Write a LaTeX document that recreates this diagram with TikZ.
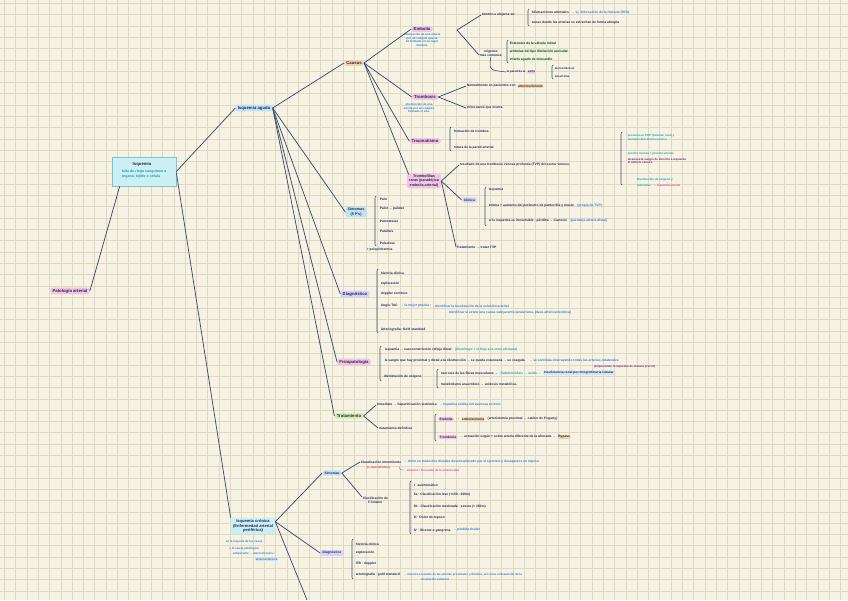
\documentclass[tikz,border=0pt]{standalone}
\usepackage{fontspec}
\setmainfont{Liberation Sans}[UprightFont=* Bold]
\newfontfamily\dejavu{DejaVu Sans}
\definecolor{bgc}{HTML}{F6F2E4}
\definecolor{gridc}{HTML}{E0D9C2}
\definecolor{linec}{HTML}{3B4E6E}
\definecolor{navy}{HTML}{1F2A5A}
\definecolor{bluet}{HTML}{2A7FD4}
\definecolor{tealt}{HTML}{1E9FB2}
\definecolor{pinkt}{HTML}{E8449A}
\definecolor{purt}{HTML}{7A1F8A}
\definecolor{redt}{HTML}{D83A3A}
\definecolor{pinkf}{HTML}{F5C4E2}
\definecolor{bluef}{HTML}{BFE2F3}
\definecolor{orangef}{HTML}{F6D3A6}
\definecolor{purf}{HTML}{D8D2F8}
\definecolor{greenf}{HTML}{D6EFAF}
\definecolor{cyanf}{HTML}{CBEFF3}
\definecolor{cyanb}{HTML}{7CC6D2}
\definecolor{lgreenf}{HTML}{E6F5C6}
\definecolor{lbluef}{HTML}{CCE7F8}
\newcommand\fsm{\fontsize{3.3}{4.0}\selectfont}
\newcommand\fxs{\fontsize{2.9}{3.5}\selectfont}
\newcommand\fmd{\fontsize{4.3}{5.1}\selectfont}
\newcommand\brak[3]{\draw[brk] (#1+1.2,#2) -- (#1,#2+1) -- (#1,#3-1) -- (#1+1.2,#3);}
\tikzset{
  pill/.style={fill=#1, rounded corners=2.4pt, inner xsep=2.2pt, inner ysep=1.3pt, text=navy, font=\fmd, align=center},
  tx/.style={anchor=west, inner sep=0.6pt, text=navy, font=\fsm, align=left},
  hl/.style={fill=#1, rounded corners=1pt},
  desc/.style={anchor=north, align=center, inner sep=0.5pt, text=bluet, font=\fxs},
  conn/.style={draw=linec, line width=0.75pt},
  brk/.style={draw=linec, line width=0.55pt, line cap=round, rounded corners=0.6pt},
}
\begin{document}
\begin{tikzpicture}[x=1pt,y=-1pt]
\useasboundingbox (0,0) rectangle (848,600);
\fill[bgc] (0,0) rectangle (848,600);
\foreach \i in {0,...,74} \draw[gridc, line width=0.45pt] ({4.3+\i*11.3},0) -- ({4.3+\i*11.3},600);
\foreach \j in {0,...,52} \draw[gridc, line width=0.45pt] (0,{3.3+\j*11.3}) -- (848,{3.3+\j*11.3});

% ---------- main nodes
\node[pill=pinkf] (pat) at (70,291) {Patología arterial};
\node[draw=cyanb, fill=cyanf, line width=0.6pt, minimum width=64, minimum height=29, inner sep=0pt] (isq) at (144,171.5) {};
\node[text=navy, font=\fmd, inner sep=0.5pt] (isqt) at (142,164) {Isquemia};
\node[desc, text=tealt, font=\fontsize{3.6}{4.4}\selectfont, align=left] (isqd) at (144,169.5) {falta de riego sanguíneo a\\órgano, tejido o célula};
\node[pill=bluef] (aguda) at (254,108) {Isquemia aguda};
\node[pill=orangef] (causas) at (354,63) {Causas};

% ---------- Embolia
\node[pill=pinkf] (emb) at (422,29) {Embolia};
\node[desc] (embd) at (422,33) {obstrucción de una arteria\\por un coágulo que se\\ha formado en un lugar\\distante};
\coordinate (embR) at (457,30);
\node[tx] (tienden) at (481,15) {tienden a alojarse en:};
\brak{528}{9}{26}
\node[tx] (bif) at (531,12.5) {bifurcaciones arteriales};
\node[tx, text=bluet] (bif2) at ([xshift=1]bif.east) {→ ej. bifurcación de la femoral (50\%)};
\node[tx] (zonas) at (531,22.5) {zonas donde las arterias se estrechan de forma abrupta};
\node[tx, align=center] (orig) at (479,53) {orígenes\\más comunes};
\brak{507}{40}{63}
\node[tx, hl=lgreenf] (o1) at (509,43.5) {Estenosis de la válvula mitral};
\node[tx, hl=lgreenf] (o2) at (509,51.5) {arritmias del tipo fibrilación auricular};
\node[tx, hl=lgreenf] (o3) at (509,59.5) {infarto agudo de miocardio};
\node[tx, font=\fxs] (pared) at (506,72) {la pared de la};
\node[tx, font=\fxs, hl=pinkf] (aorta) at ([xshift=1]pared.east) {aorta};
\brak{552}{65}{79}
\node[tx, font=\fxs] (ater) at (554,68.5) {aterosclerosis};
\node[tx, font=\fxs] (aneu) at (554,76) {aneurisma};

% ---------- Trombosis
\node[pill=pinkf] (tromb) at (425,97) {Trombosis};
\node[desc] (trombd) at (419,103) {obstrucción de una\\arteria por un coágulo\\formado in situ.};
\node[tx] (norm) at (466,86) {Normalmente en pacientes con};
\node[tx, hl=orangef] (arter) at ([xshift=1]norm.east) {arteriosclerosis};
\node[tx] (infre) at (466,108) {infrecuente que ocurra.};

% ---------- Traumatismo
\node[pill=pinkf] (traum) at (425,141) {Traumatismo};
\brak{450}{127}{151}
\node[tx] (t1) at (453,131) {formación de trombos};
\node[tx] (t2) at (453,148) {rotura de la pared arterial};

% ---------- Trombofilias
\node[pill=pinkf, font=\fontsize{3.7}{4.3}\selectfont] (tfil) at (424,181) {Trombofilias\\raras (paradójica\\embolia arterial)};
\node[tx] (res) at (459,165) {resultado de una trombosis venosa profunda (TVP) del sector venoso.};
\node[pill=purf, font=\fsm] (clin) at (469.5,200) {Clínica};
\brak{485}{187}{226}
\node[tx] (c1) at (488,190) {Isquemia};
\node[tx] (c2) at (488,206) {edema + aumento del perímetro de pantorrilla y muslo};
\node[tx, text=bluet] (c2b) at ([xshift=2]c2.east) {(propio de TVP)};
\node[tx] (c3) at (488,221) {si la isquemia es irreversible · pérdida → cianosis};
\node[tx, text=bluet] (c3b) at ([xshift=2]c3.east) {(paradoja arteria distal)};
\node[tx] (ttvp) at (456,247) {Tratamiento → tratar TVP};

% right notes
\brak{621}{132}{185}
\node[tx, text=tealt, font=\fxs] (fop) at (627,137.5) {presenta un FOP (foramen oval) y\\aumento del retorno venoso};
\node[font=\fxs, text=navy, inner sep=0.3pt] (ar1) at (650,148) {↓};
\node[tx, text=tealt, font=\fxs] (pres) at (627,154) {presión venosa > presión arterial};
\node[tx, text=purt, font=\fxs] (atr) at (627,161) {atraviesa la sangre de derecha a izquierda\\el émbolo venoso.};
\node[font=\fxs, text=navy, inner sep=0.3pt] (ar2) at (650,173) {↓};
\node[tx, text=tealt, font=\fxs] (dism) at (636,180) {Disminución de oxígeno y};
\node[tx, text=tealt, font=\fxs] (dism2) at (636,185.5) {nutrientes};
\node[tx, text=pinkt, font=\fxs] (dism3) at ([xshift=1]dism2.east) {→ isquemia arterial};

% ---------- Síntomas
\node[pill=bluef, font=\fontsize{3.7}{4.3}\selectfont] (sint) at (356,212) {Síntomas\\(5 P's)};
\brak{375}{196}{246}
\node[tx] (s1) at (379,199) {Pain};
\node[tx] (s2) at (379,209) {Palor → palidez};
\node[tx] (s3) at (379,221) {Parestesias};
\node[tx] (s4) at (379,231) {Parálisis};
\node[tx] (s5) at (379,243) {Pulseless};
\node[tx] (s6) at (366,249.5) {+ poiquilotermia};

% ---------- Diagnóstico
\node[pill=purf] (diag) at (355,294) {Diagnóstico};
\brak{377}{269}{333}
\node[tx] (d1) at (380,273) {historia clínica};
\node[tx] (d2) at (380,284) {exploración};
\node[tx] (d3) at (380,294) {doppler continuo};
\node[tx] (d4) at (380,306) {Angio-TAC};
\node[tx, text=bluet] (d4b) at ([xshift=1]d4.east) {→ la mejor prueba :};
\node[tx, text=bluet] (d4c) at ([xshift=2]d4b.east) {identificar la localización de la oclusión arterial};
\node[tx, text=bluet] (d4d) at (448,312.5) {identificar si existe una causa subyacente (aneurisma, placa arteriosclerótica)};
\node[tx] (d5) at (380,330) {Arteriografía: Gold standard};

% ---------- Fisiopatología
\node[pill=pinkf] (fisio) at (354,362) {Fisiopatología};
\brak{380}{346}{381}
\node[tx] (f1) at (384,350) {isquemia → vasoconstricción refleja distal};
\node[tx, text=tealt] (f1b) at ([xshift=2]f1.east) {(disminuye + el flujo a la zona afectada)};
\node[tx] (f2) at (384,361) {la sangre que hay proximal y distal a la obstrucción → se queda estancada → se coagula.};
\node[tx, text=bluet] (f2b) at ([xshift=2]f2.east) {→ se continúa obstruyendo todas las arterias colaterales};
\node[tx, text=purt, font=\fxs] (f2c) at (593,366.5) {(empeorando la isquemia de manera precoz)};
\node[tx] (f3) at (383,377) {disminución de oxígeno};
\brak{437}{369}{388}
\node[tx] (f3a) at (440,373) {necrosis de las fibras musculares →};
\node[tx, text=tealt] (f3b) at ([xshift=1]f3a.east) {Rabdomiólisis → ácido →};
\node[tx, hl=lbluef] (f3c) at ([xshift=1]f3b.east) {insuficiencia renal por mioglobinuria tubular};
\node[tx] (f4) at (440,384.5) {metabolismo anaeróbico → acidosis metabólica.};

% ---------- Tratamiento
\node[pill=greenf] (trat) at (349,416) {Tratamiento};
\node[tx] (inm) at (376,405) {Inmediato → heparinización sistémica};
\node[tx, text=bluet] (inmb) at ([xshift=1]inm.east) {→ heparina sódica intravenosa en bolo};
\node[tx] (tdef) at (378,428) {tratamiento definitivo};
\brak{435}{414}{441}
\node[pill=pinkf, font=\fsm, anchor=west, inner xsep=1.5pt, inner ysep=0.8pt] (temb) at (438,419) {Embolia};
\node[tx] (temb2) at ([xshift=1]temb.east) {→};
\node[tx, hl=orangef] (temb3) at ([xshift=1]temb2.east) {embolectomía};
\node[tx] (temb4) at ([xshift=2]temb3.east) {(arteriotomía proximal → catéter de Fogarty)};
\node[pill=pinkf, font=\fsm, anchor=west, inner xsep=1.5pt, inner ysep=0.8pt] (ttro) at (438,437) {Trombosis};
\node[tx] (ttro2) at ([xshift=1]ttro.east) {→ actuación según + sobre arteria diferente de la afectada →};
\node[tx, hl=orangef] (ttro3) at ([xshift=1]ttro2.east) {Bypass};

% ---------- Isquemia crónica
\node[pill=cyanf, font=\fontsize{4.1}{4.9}\selectfont] (cron) at (253,526) {Isquemia crónica\\(Enfermedad arterial\\periférica)};
\node[tx, text=bluet, font=\fxs] (cr1) at (225,542) {en la mayoría de los casos};
\node[tx, text=bluet, font=\fxs] (cr2) at (228,548.5) {{\dejavu ↳} la causa patológica};
\node[tx, text=bluet, font=\fxs] (cr3) at (232,554) {subyacente → aterosclerosis /};
\node[tx, text=bluet, font=\fxs, hl=lbluef] (cr4) at (255,559.5) {arteriosclerosis};
\coordinate (offc) at (307,600);

\node[pill=bluef, font=\fsm] (sint2) at (332,473) {Síntomas};
\node[tx] (claud) at (360,462) {Claudicación intermitente};
\node[tx, text=bluet] (claudb) at ([xshift=1]claud.east) {→ dolor en músculos distales desencadenado por el ejercicio y desaparece en reposo};
\node[tx, text=redt, font=\fxs] (carac) at (366,467.5) {(+ característico)};
\draw[pinkt, line width=0.4pt] (399,467) .. controls (400,470) .. (405,470);
\node[tx, text=pinkt, font=\fxs] (frec) at (406,470.5) {síntoma + frecuente de la enfermedad};
\node[tx, align=center] (clasif) at (362,500) {Clasificación de\\Fontaine};
\brak{410}{481}{534}
\node[tx] (fo1) at (413,485) {I · asintomático};
\node[tx] (fo2) at (413,495) {IIa · Claudicación leve (+150 - 200m)};
\node[tx] (fo3) at (413,507) {IIb · Claudicación moderada · severa (< 150m)};
\node[tx] (fo4) at (413,518) {III · Dolor de reposo};
\node[tx] (fo5) at (413,530) {IV · Úlceras o gangrena};
\node[tx, text=bluet] (fo5b) at ([xshift=1]fo5.east) {→ pérdida tisular};

\node[pill=purf, font=\fsm] (diag2) at (332,553) {Diagnóstico};
\brak{352}{539}{579}
\node[tx] (g1) at (355,544) {historia clínica};
\node[tx] (g2) at (355,553) {exploración};
\node[tx] (g3) at (355,564) {ITB · doppler};
\node[tx] (g4) at (355,575) {arteriografía · gold standard};
\node[tx, text=bluet, font=\fxs] (g4b) at ([xshift=2]g4.east) {→ muestra el estado de las arterias proximales y distales, así como el desarrollo de la};
\node[tx, text=bluet, font=\fxs] (g4c) at (420,579.5) {circulación colateral};

% ---------- connectors
\draw[conn] (pat.east) -- ([xshift=8]isq.south west);
\draw[conn] (isq.east) -- (aguda.west);
\draw[conn] ([yshift=-1]isq.east) -- (cron.north west);
\draw[conn] (aguda.east) -- (causas.west);
\foreach \t in {sint,diag,fisio,trat} \draw[conn] (aguda.east) -- (\t.west);
\foreach \t in {emb,tromb,traum} \draw[conn] (causas.east) -- (\t.west);
\draw[conn] (causas.east) -- ([xshift=2,yshift=-1]tfil.north west);
\draw[conn] (tienden.west) -- (embR) -- ([yshift=-2]orig.west);
\draw[linec, line width=0.55pt] (orig.south) .. controls (489,70) .. (pared.west);
\draw[conn] (tromb.east) -- (norm.west);
\draw[conn] (tromb.east) -- (infre.west);
\foreach \t in {res,clin,ttvp} \draw[conn] (tfil.east) -- (\t.west);
\draw[conn] (trat.east) -- (inm.west);
\draw[conn] (trat.east) -- (tdef.west);
\draw[conn] ([yshift=-4]cron.north east) -- (sint2.west);
\draw[conn] ([yshift=-4]cron.north east) -- (diag2.west);
\draw[conn] ([yshift=-4]cron.north east) -- (offc);
\draw[conn] (sint2.east) -- (claud.west);
\draw[conn] (sint2.east) -- ([yshift=-1]clasif.north west);
\end{tikzpicture}
\end{document}
